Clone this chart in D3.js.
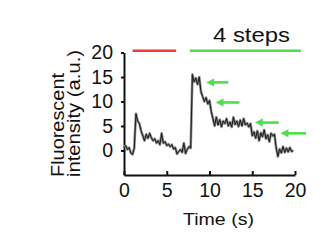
<!DOCTYPE html>
<html lang="en">
<head>
<meta charset="UTF-8">
<title>Fluorescent intensity trace</title>
<script src="https://d3js.org/d3.v7.min.js"></script>
<style>
  body { margin: 0; background: #fff; }
  svg { display: block; font-family: "Liberation Sans", Arial, sans-serif; }
  .axis path, .axis line { stroke: #111; stroke-width: 2; }
  .axis text { font-size: 19.5px; fill: #111; }
</style>
</head>
<body>
<svg id="chart" width="328" height="250"></svg>
<script>
// sampled trace, one value every 0.2 s starting at t = 0
const sampleStep = 0.2;
const intensity = [
  0.5, 1.0, 0.2, 0.6, -0.5, -0.8, 0.5, 7.5, 6.0, 5.5,
  4.0, 3.0, 2.0, 3.3, 2.5, 3.5, 2.6, 2.0, 2.4, 1.5,
  2.0, 1.2, 3.5, 1.5, 1.8, 1.0, 1.3, 0.8, 1.2, 0.3,
  0.6, -0.7, -0.2, 0.2, -0.4, 1.5, -0.6, 0.2, 0.8, 0.5,
  15.5, 14.0, 14.8, 13.5, 15.0, 12.0, 11.0, 10.0, 10.8, 9.5,
  10.2, 8.0, 6.5, 5.0, 6.8, 5.2, 6.3, 4.8, 6.0, 5.5,
  6.5, 5.0, 5.8, 4.8, 6.8, 5.3, 6.0, 4.9, 6.2, 5.0,
  6.5, 5.2, 5.6, 4.8, 5.5, 3.0, 3.8, 2.5, 4.0, 2.0,
  3.6, 2.8, 4.2, 2.4, 3.2, 1.8, 3.5, 3.0, 3.3, 0.5,
  -1.2, 0.3, -0.5, 0.8, -0.4, 0.5, -0.3, 0.6, -0.2, 0.0
];

const xTicks = [0, 5, 10, 15, 20];
const yTicks = [0, 5, 10, 15, 20];

// time bars above the plot: [start, end] in seconds
const redBar = [1.0, 6.1];
const greenBar = [7.7, 20.7];

// step arrows: [tailTime, headTime, level]
const arrowTails = [12.2, 13.5, 18.1, 21.3];
const arrowHeads = [9.6, 10.7, 15.3, 18.3];
const arrowLevels = [13.9, 9.8, 5.7, 3.5];

const red = "#ee3a34";
const green = "#4ede4e";

const svg = d3.select("#chart");

const x = d3.scaleLinear().domain([0, 20]).range([124, 295]);
const y = d3.scaleLinear().domain([-5, 20]).range([175, 52.5]);

// axes
svg.append("g")
  .attr("class", "axis")
  .attr("transform", "translate(0," + y(-5) + ")")
  .call(d3.axisBottom(x).tickValues(xTicks).tickSizeInner(-4).tickSizeOuter(0).tickPadding(8))
  .call(g => g.selectAll("text").attr("font-size", null));

svg.append("g")
  .attr("class", "axis")
  .attr("transform", "translate(" + x(0) + ",0)")
  .call(d3.axisLeft(y).tickValues(yTicks).tickSizeInner(3).tickSizeOuter(0).tickPadding(8))
  .call(g => g.selectAll("text").attr("font-size", null));

svg.selectAll(".axis").attr("font-family", null).attr("font-size", null);

// trace
const line = d3.line()
  .x((d, i) => x(i * sampleStep))
  .y(d => y(d));

svg.append("path")
  .datum(intensity)
  .attr("fill", "none")
  .attr("stroke", "#8a8a8a")
  .attr("stroke-width", 2.6)
  .attr("stroke-linejoin", "round")
  .attr("d", line);

svg.append("path")
  .datum(intensity)
  .attr("fill", "none")
  .attr("stroke", "#1a1a1a")
  .attr("stroke-width", 1)
  .attr("stroke-linejoin", "round")
  .attr("d", line);

// bars
svg.append("line")
  .attr("x1", x(redBar[0])).attr("x2", x(redBar[1]))
  .attr("y1", 50.7).attr("y2", 50.7)
  .attr("stroke", red).attr("stroke-width", 2.5);

svg.append("line")
  .attr("x1", x(greenBar[0])).attr("x2", x(greenBar[1]))
  .attr("y1", 50.7).attr("y2", 50.7)
  .attr("stroke", green).attr("stroke-width", 2.5);

// arrows
arrowLevels.forEach((lv, i) => {
  const hx = x(arrowHeads[i]), tx = x(arrowTails[i]), yy = y(lv);
  svg.append("line")
    .attr("x1", hx + 6).attr("x2", tx)
    .attr("y1", yy).attr("y2", yy)
    .attr("stroke", green).attr("stroke-width", 2.6);
  svg.append("path")
    .attr("d", "M" + hx + "," + yy + "L" + (hx + 8) + "," + (yy - 4) + "L" + (hx + 8) + "," + (yy + 4) + "Z")
    .attr("fill", green);
});

// texts
svg.append("text")
  .attr("x", 213).attr("y", 41.5)
  .attr("font-size", 21)
  .attr("textLength", 77).attr("lengthAdjust", "spacingAndGlyphs")
  .attr("fill", "#111")
  .text("4 steps");

svg.append("text")
  .attr("x", 183).attr("y", 225)
  .attr("font-size", 16.3)
  .attr("textLength", 71).attr("lengthAdjust", "spacingAndGlyphs")
  .attr("fill", "#111")
  .text("Time (s)");

svg.append("text")
  .attr("transform", "translate(64.3,177) rotate(-90)")
  .attr("font-size", 17.5)
  .attr("textLength", 104).attr("lengthAdjust", "spacingAndGlyphs")
  .attr("fill", "#111")
  .text("Fluorescent");

svg.append("text")
  .attr("transform", "translate(79.5,177) rotate(-90)")
  .attr("font-size", 17.5)
  .attr("textLength", 127).attr("lengthAdjust", "spacingAndGlyphs")
  .attr("fill", "#111")
  .text("intensity (a.u.)");
</script>
</body>
</html>
